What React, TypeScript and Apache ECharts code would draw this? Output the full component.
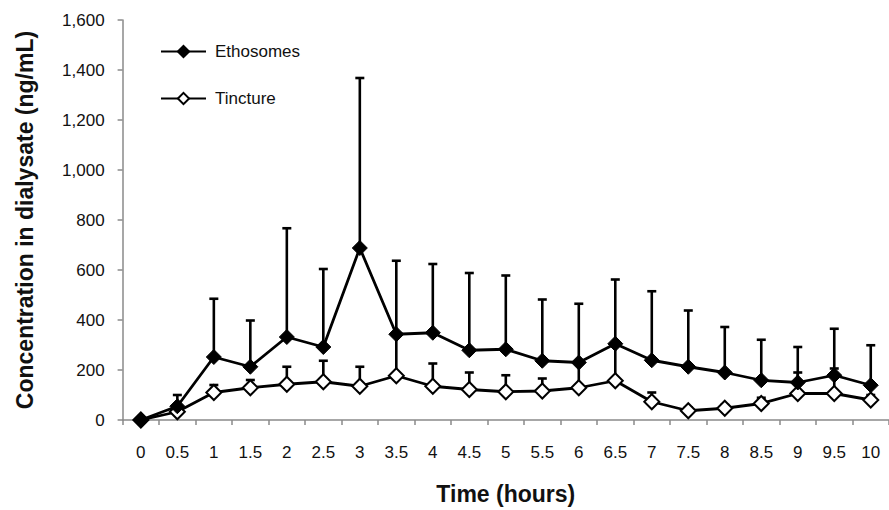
import React, { useEffect, useRef } from "react";
import * as echarts from "echarts";

const timeLabels = ["0", "0.5", "1", "1.5", "2", "2.5", "3", "3.5", "4", "4.5", "5", "5.5", "6", "6.5", "7", "7.5", "8", "8.5", "9", "9.5", "10"];
const ethosomes = [0, 55, 252, 213, 332, 292, 688, 343, 349, 279, 283, 237, 230, 305, 239, 213, 190, 159, 150, 179, 139];
const ethosomesUpper = [0, 100, 485, 398, 767, 604, 1368, 637, 624, 588, 578, 482, 465, 562, 515, 438, 372, 321, 292, 365, 299];
const tincture = [0, 33, 110, 129, 143, 153, 135, 177, 135, 122, 113, 116, 129, 157, 73, 37, 47, 66, 106, 106, 80];
const tinctureUpper = [0, 50, 140, 160, 213, 237, 213, 340, 226, 190, 179, 166, 228, 300, 110, 50, 60, 89, 190, 206, 100];
const yTicks = { min: 0, max: 1600, interval: 200 };

const FONT = "'Liberation Sans', Arial, sans-serif";

function errorSeries(name: string, values: number[], upper: number[], z: number) {
  return {
    type: "custom",
    name: name + "-err",
    z,
    silent: true,
    encode: { x: 0, y: [1, 2] },
    data: values.map((v, i) => [i, v, upper[i]]),
    renderItem: (params: any, api: any) => {
      const p0 = api.coord([api.value(0), api.value(1)]);
      const p1 = api.coord([api.value(0), api.value(2)]);
      const hw = 4.5;
      const style = { stroke: "#000", lineWidth: 2.6 };
      return {
        type: "group",
        children: [
          { type: "line", shape: { x1: p0[0], y1: p0[1], x2: p1[0], y2: p1[1] }, style },
          { type: "line", shape: { x1: p1[0] - hw, y1: p1[1], x2: p1[0] + hw, y2: p1[1] }, style },
        ],
      };
    },
  };
}

export default function App() {
  const ref = useRef<HTMLDivElement>(null);
  useEffect(() => {
    document.body.style.margin = "0";
    const chart = echarts.init(ref.current!, null, { renderer: "svg" });
    const catW = 36.9;
    chart.setOption({
      animation: false,
      backgroundColor: "#ffffff",
      grid: { left: 122.6, top: 20, height: 401.7, width: catW * timeLabels.length },
      legend: {
        orient: "vertical",
        left: 160,
        top: 43,
        padding: 0,
        itemWidth: 45,
        itemHeight: 14,
        itemGap: 30,
        textStyle: { fontFamily: FONT, fontSize: 17, color: "#111", padding: [0, 0, 0, 4] },
        data: ["Ethosomes", "Tincture"],
      },
      xAxis: {
        type: "category",
        data: timeLabels,
        boundaryGap: true,
        name: "Time (hours)",
        nameLocation: "middle",
        nameGap: 62,
        nameTextStyle: { fontFamily: FONT, fontSize: 23, fontWeight: "bold", color: "#111" },
        axisLine: { lineStyle: { color: "#8a8a8a", width: 1.5 } },
        axisTick: { show: true, length: 5, lineStyle: { color: "#8a8a8a", width: 1.5 } },
        axisLabel: { fontFamily: FONT, fontSize: 17, color: "#111", margin: 24, interval: 0 },
      },
      yAxis: {
        type: "value",
        min: yTicks.min,
        max: yTicks.max,
        interval: yTicks.interval,
        name: "Concentration in dialysate (ng/mL)",
        nameLocation: "middle",
        nameGap: 86,
        nameTextStyle: { fontFamily: FONT, fontSize: 23, fontWeight: "bold", color: "#111" },
        axisLine: { show: true, lineStyle: { color: "#8a8a8a", width: 1.5 } },
        axisTick: { show: true, length: 5, lineStyle: { color: "#8a8a8a", width: 1.5 } },
        splitLine: { show: false },
        axisLabel: {
          fontFamily: FONT,
          fontSize: 17,
          color: "#111",
          margin: 18,
          formatter: (v: number) => v.toLocaleString("en-US"),
        },
      },
      series: [
        errorSeries("Tincture", tincture, tinctureUpper, 1),
        {
          type: "line",
          name: "Tincture",
          data: tincture,
          z: 2,
          symbol: "diamond",
          symbolSize: 15,
          showSymbol: true,
          lineStyle: { color: "#000", width: 2.8 },
          itemStyle: { color: "#fff", borderColor: "#000", borderWidth: 2 },
        },
        errorSeries("Ethosomes", ethosomes, ethosomesUpper, 3),
        {
          type: "line",
          name: "Ethosomes",
          data: ethosomes,
          z: 4,
          symbol: "diamond",
          symbolSize: 15,
          showSymbol: true,
          lineStyle: { color: "#000", width: 2.8 },
          itemStyle: { color: "#000", borderColor: "#000", borderWidth: 1 },
        },
      ],
    });
    return () => chart.dispose();
  }, []);
  return <div ref={ref} style={{ width: 889, height: 510 }} />;
}
